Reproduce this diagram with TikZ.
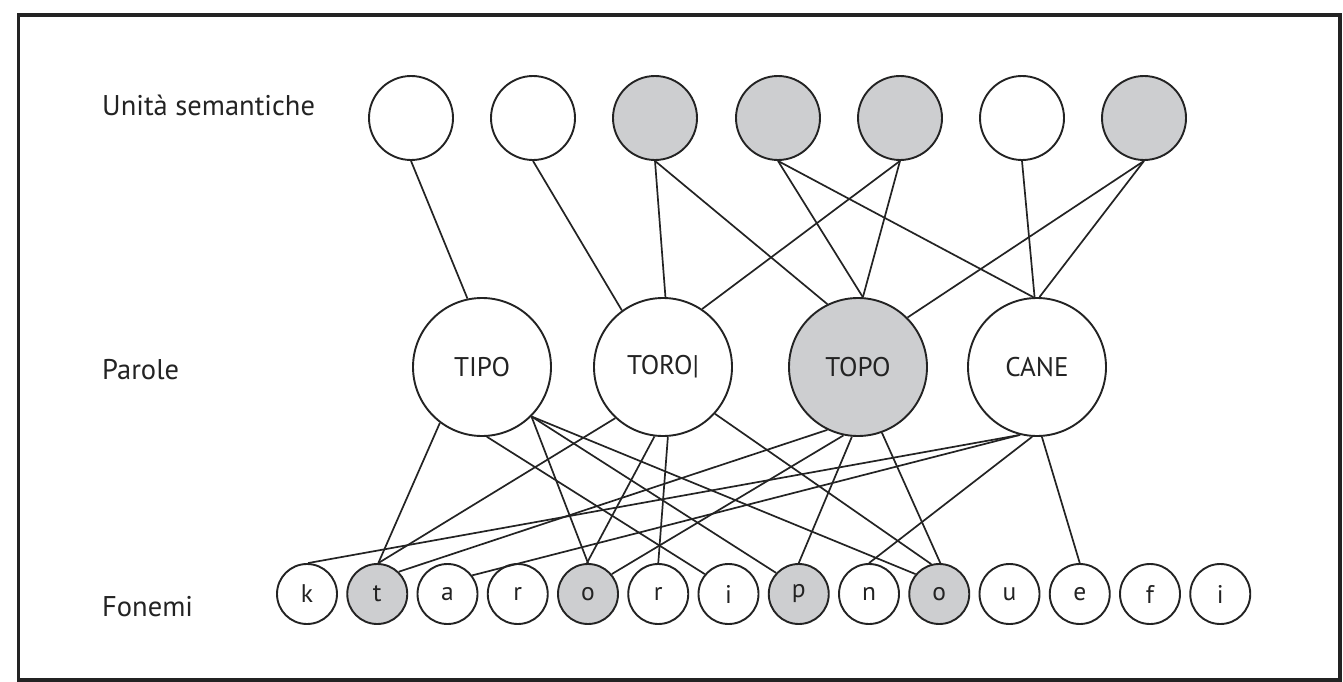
\documentclass[tikz,border=0pt]{standalone}
\usepackage{fontspec}
\setmainfont{PT Sans}
\definecolor{fillgray}{RGB}{205,206,208}
\definecolor{ink}{RGB}{35,35,35}
\begin{document}
\begin{tikzpicture}[x=1pt,y=-1pt,
  every node/.style={inner sep=0pt, text=ink},
  sem/.style={circle, draw=ink, line width=1.9pt, minimum size=84pt},
  word/.style={circle, draw=ink, line width=1.9pt, minimum size=138pt, font=\fontsize{27}{30}\selectfont},
  phon/.style={circle, draw=ink, line width=1.9pt, minimum size=60pt, font=\fontsize{25.5}{28}\selectfont},
  on/.style={fill=fillgray},
  off/.style={fill=white},
  lab/.style={anchor=west, font=\fontsize{28.5}{31}\selectfont},
  link/.style={draw=ink, line width=1.7pt}]
\useasboundingbox (0,0) rectangle (1343,682);
\fill[white] (0,0) rectangle (1343,682);
\draw[ink, line width=3.5pt] (18.5,15) rectangle (1340,680);

% labels
\node[lab] (L1) at (102,105) {Unità semantiche};
\node[lab] (L2) at (102,370) {Parole};
\node[lab] (L3) at (102,607) {Fonemi};

% semantic units
\foreach \i/\x/\s in {1/411/off,2/533/off,3/655/on,4/778/on,5/900/on,6/1022/off,7/1144/on}
  \path (\x,118) node[sem,\s] (S\i) {};
% words
\node[word,off] (TIPO) at (482,367) {TIPO};
\node[word,off] (TORO) at (663,367) {TORO|};
\node[word,on]  (TOPO) at (858,367) {TOPO};
\node[word,off] (CANE) at (1037,367) {CANE};
% phonemes
\foreach \n/\l/\s [count=\k from 0] in {pk/k/off,pt/t/on,pa/a/off,pr/r/off,po/o/on,pr2/r/off,pi/i/off,pp/p/on,pn/n/off,po2/o/on,pu/u/off,pe/e/off,pf/f/off,pi2/i/off}
  \path (307+70.25*\k,594) node[phon,\s] (\n) {\l};

% semantic -> word
\draw[link] (S1.south) -- (TIPO.102);
\draw[link] (S2.south) -- (TORO.126);
\draw[link] (S3.south) -- (TORO.88);
\draw[link] (S3.south) -- (TOPO.116);
\draw[link] (S4.south) -- (TOPO.86);
\draw[link] (S5.south) -- (TOPO.86);
\draw[link] (S5.south) -- (TORO.56);
\draw[link] (S4.south) -- (CANE.93);
\draw[link] (S6.south) -- (CANE.92);
\draw[link] (S7.south) -- (CANE.88);
\draw[link] (S7.south) -- (TOPO.45);
% word -> phoneme
\draw[link] (TIPO.233) -- (pt.88);
\draw[link] (TIPO.274) -- (pi.140);
\draw[link] (TIPO.315) -- (po.90);
\draw[link] (TIPO.315) -- (pp.137);
\draw[link] (TIPO.315) -- (po2.140);
\draw[link] (TORO.227) -- (pt.88);
\draw[link] (TORO.263) -- (po.92);
\draw[link] (TORO.274) -- (pr2.90);
\draw[link] (TORO.318) -- (po2.105);
\draw[link] (TOPO.244) -- (pt.46);
\draw[link] (TOPO.258) -- (po.40);
\draw[link] (TOPO.265) -- (pp.90);
\draw[link] (TOPO.290) -- (po2.88);
\draw[link] (CANE.256) -- (pk.88);
\draw[link] (CANE.256) -- (pa.37);
\draw[link] (CANE.266) -- (pn.90);
\draw[link] (CANE.274) -- (pe.90);
\end{tikzpicture}
\end{document}
